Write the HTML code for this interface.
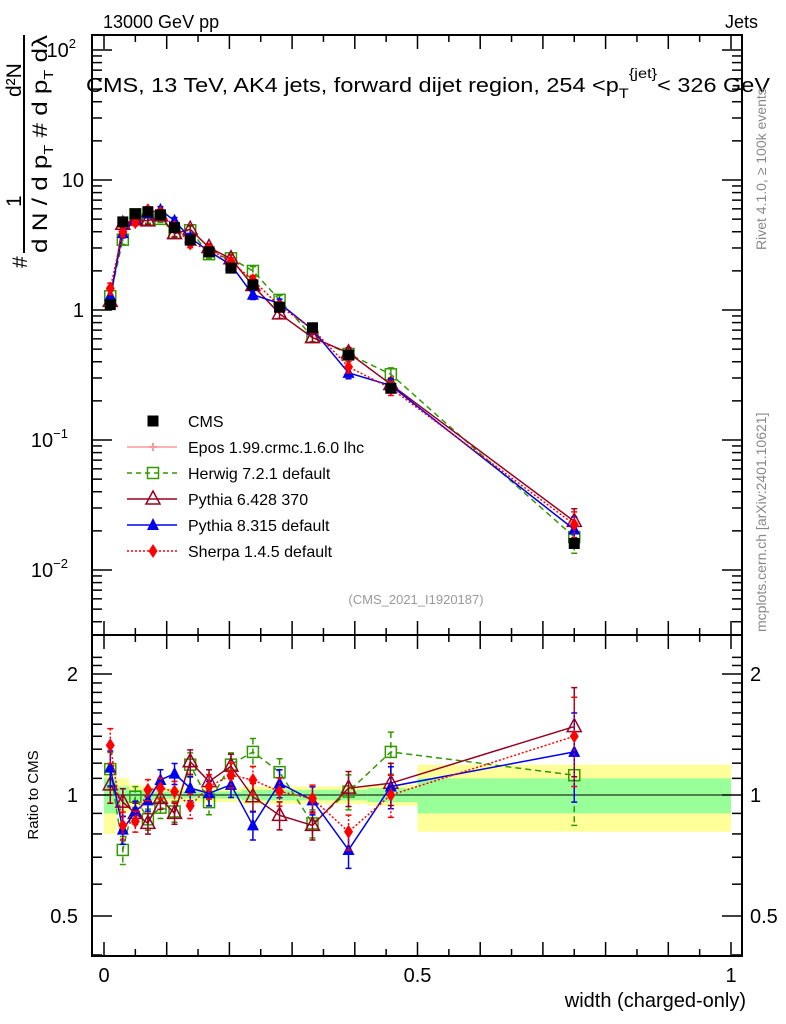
<!DOCTYPE html>
<html><head><meta charset="utf-8"><style>
body{margin:0;background:#fff}
svg{display:block;font-family:"Liberation Sans",Arial,sans-serif}
</style></head><body>
<svg id="c" width="786" height="1024" viewBox="0 0 786 1024" xmlns="http://www.w3.org/2000/svg">
<g id="bands"></g>
<g id="axes"></g>
<g id="series"></g>
<text x="103" y="28" font-size="18">13000 GeV pp</text>
<text x="758" y="28" font-size="18" text-anchor="end">Jets</text>
<text x="86" y="92" font-size="20" textLength="684" lengthAdjust="spacingAndGlyphs">CMS, 13 TeV, AK4 jets, forward dijet region, 254 &lt;p<tspan font-size="14" dy="6">T</tspan><tspan font-size="14" dy="-20">{jet}</tspan><tspan dy="14">&lt; 326 GeV</tspan></text>
<text x="416" y="604" font-size="13" fill="#999" text-anchor="middle">(CMS_2021_I1920187)</text>
<text transform="translate(766,250) rotate(-90)" font-size="14" fill="#888">Rivet 4.1.0, ≥ 100k events</text>
<text transform="translate(766,632) rotate(-90)" font-size="14" fill="#888">mcplots.cern.ch [arXiv:2401.10621]</text>
<g font-size="21">
<text transform="translate(21,97) rotate(-90)">d²N</text>
<text transform="translate(21,207) rotate(-90)">1</text>
<text transform="translate(27,268) rotate(-90)">#</text>
<line x1="24" y1="35" x2="24" y2="253" stroke="#000" stroke-width="2"/>
<text transform="translate(47,253) rotate(-90)" textLength="218" lengthAdjust="spacingAndGlyphs">d N / d p<tspan font-size="13" dy="6">T</tspan><tspan dy="-6"> # d p</tspan><tspan font-size="13" dy="6">T</tspan><tspan dy="-6"> dλ</tspan></text>
</g>
<text transform="translate(38,795) rotate(-90)" font-size="15" text-anchor="middle">Ratio to CMS</text>
<text x="746" y="1007" font-size="20" text-anchor="end">width (charged-only)</text>
<g id="legend"></g>
</svg>
<script>
const xVals=[0.01,0.03,0.05,0.07,0.09,0.1125,0.1375,0.1675,0.2025,0.2375,0.28,0.3325,0.39,0.4575,0.75];
const binEdges=[0,0.02,0.04,0.06,0.08,0.1,0.125,0.15,0.185,0.22,0.255,0.305,0.36,0.42,0.5,1];
const cmsVals=[1.1,4.76,5.5,5.7,5.4,4.3,3.45,2.8,2.1,1.56,1.05,0.73,0.45,0.25,0.016];
const bandYellow=[0.2,0.1,0.06,0.05,0.04,0.04,0.04,0.04,0.04,0.05,0.05,0.05,0.05,0.06,0.19];
const bandGreen=[0.1,0.05,0.03,0.03,0.02,0.02,0.02,0.02,0.02,0.03,0.03,0.03,0.03,0.04,0.1];
const herwigRatio=[1.16,0.73,0.99,0.87,0.93,0.91,1.19,0.96,1.19,1.28,1.14,0.85,1.02,1.28,1.12];
const pythia6Ratio=[1.06,0.96,0.90,0.85,0.98,0.90,1.21,1.08,1.18,0.99,0.89,0.84,1.04,1.07,1.48];
const pythia8Ratio=[1.17,0.82,0.91,0.97,1.09,1.13,1.04,1.01,1.06,0.84,1.07,0.97,0.73,1.05,1.28];
const sherpaRatio=[1.33,0.84,0.86,1.03,1.04,1.02,0.94,1.05,1.12,1.09,1.02,0.98,0.81,1.0,1.40];
const mcErr=[0.1,0.08,0.06,0.06,0.06,0.06,0.07,0.07,0.07,0.08,0.08,0.08,0.1,0.12,0.25];
const ratioTicks=[0.5,1,2];

const NS="http://www.w3.org/2000/svg";
const L=92,R=742,T=35,M=635,B=956;
const X=v=>104+v*627;
const Y=v=>310-130*Math.log10(v);
const YR=v=>795-121*Math.log2(v);
function mk(tag,attrs,parent){const e=document.createElementNS(NS,tag);for(const k in attrs)e.setAttribute(k,attrs[k]);parent.appendChild(e);return e;}
const bands=document.getElementById('bands'),axes=document.getElementById('axes'),ser=document.getElementById('series'),leg=document.getElementById('legend');

for(let i=0;i<xVals.length;i++){
  const x0=X(binEdges[i]),x1=X(binEdges[i+1]);
  let r=mk('rect',{x:x0,y:YR(1+bandYellow[i]),width:x1-x0,height:YR(1-bandYellow[i])-YR(1+bandYellow[i]),fill:'#ffff99'},bands);
  
  
  r=mk('rect',{x:x0,y:YR(1+bandGreen[i]),width:x1-x0,height:YR(1-bandGreen[i])-YR(1+bandGreen[i]),fill:'#99ff99'},bands);
  
  
}
let ln=mk('line',{x1:L,x2:R,y1:YR(1),y2:YR(1),stroke:'#000','stroke-width':1},bands);



for(const [y0,y1,nm] of [[T,M,'main-plot-frame'],[M,B,'ratio-plot-frame']]){
  const f=mk('rect',{x:L,y:y0,width:R-L,height:y1-y0,fill:'none',stroke:'#000','stroke-width':2},axes);
  
  
}
for(let k=0;k<=20;k++){
  const v=k*0.05,x=X(v),len=(k%2==0)?14:7;
  for(const yb of [M,B]){mk('line',{x1:x,x2:x,y1:yb,y2:yb-len,stroke:'#000','stroke-width':1.5},axes);}
  mk('line',{x1:x,x2:x,y1:T,y2:T+len,stroke:'#000','stroke-width':1.5},axes);
  mk('line',{x1:x,x2:x,y1:M,y2:M+len,stroke:'#000','stroke-width':1.5},axes);
}
[['0',0],['0.5',0.5],['1',1]].forEach(([s,v])=>{const t=mk('text',{x:X(v),y:982,'font-size':20,'text-anchor':'middle'},axes);t.textContent=s;

});
for(let e=-3;e<=2;e++){
  for(let m=1;m<10;m++){
    const v=m*Math.pow(10,e),y=Y(v);
    if(y<T||y>M)continue;
    const len=m==1?20:10;
    mk('line',{x1:L,x2:L+len,y1:y,y2:y,stroke:'#000','stroke-width':1.5},axes);
    mk('line',{x1:R,x2:R-len,y1:y,y2:y,stroke:'#000','stroke-width':1.5},axes);
  }
}
[[100,'10','2'],[10,'10',''],[1,'1',''],[0.1,'10','−1'],[0.01,'10','−2']].forEach(([v,b,s])=>{
  const t=mk('text',{x:s?72:84,y:Y(v)+7,'font-size':20,'text-anchor':'end'},axes);
  t.textContent=b;
  if(s){const sp=mk('tspan',{dy:-9,'font-size':13},t);sp.textContent=s;t.setAttribute('x',s.length>1?68:76);t.setAttribute('text-anchor','end');}
  
  
});
for(let v=0.4;v<=2.3;v+=0.1){const y=YR(v);if(y<M||y>B)continue;
  const maj=ratioTicks.some(r=>Math.abs(r-v)<1e-6);const len=maj?20:10;
  mk('line',{x1:L,x2:L+len,y1:y,y2:y,stroke:'#000','stroke-width':1.5},axes);
  mk('line',{x1:R,x2:R-len,y1:y,y2:y,stroke:'#000','stroke-width':1.5},axes);}
ratioTicks.forEach(v=>{
  let t=mk('text',{x:78,y:YR(v)+7,'font-size':20,'text-anchor':'end'},axes);t.textContent=String(v);
  
  
  t=mk('text',{x:750,y:YR(v)+7,'font-size':20},axes);t.textContent=String(v);
  
  
});

function marker(g,type,x,y,col){
  if(type=='sq')mk('rect',{x:x-5.5,y:y-5.5,width:11,height:11,fill:'none',stroke:col,'stroke-width':1.5},g);
  else if(type=='fsq')mk('rect',{x:x-5.5,y:y-5.5,width:11,height:11,fill:col},g);
  else if(type=='otri')mk('polygon',{points:`${x},${y-8} ${x-7},${y+5} ${x+7},${y+5}`,fill:'none',stroke:col,'stroke-width':1.5},g);
  else if(type=='tri')mk('polygon',{points:`${x},${y-7} ${x-6},${y+5} ${x+6},${y+5}`,fill:col},g);
  else if(type=='dia')mk('polygon',{points:`${x},${y-7} ${x-4.5},${y} ${x},${y+7} ${x+4.5},${y}`,fill:col},g);
  else if(type=='cross'){mk('path',{d:`M${x-4} ${y}h8M${x} ${y-4}v8`,stroke:col,'stroke-width':2},g);}
}
const series=[
 {name:'herwig',ratio:herwigRatio,col:'#339900',dash:'6,4',m:'sq'},
 {name:'pythia6',ratio:pythia6Ratio,col:'#990022',dash:'',m:'otri'},
 {name:'pythia8',ratio:pythia8Ratio,col:'#0000ee',dash:'',m:'tri'},
 {name:'sherpa',ratio:sherpaRatio,col:'#ff0000',dash:'2,2',m:'dia'}
];
series.forEach(s=>{
  const g=mk('g',{},ser);
  
  
  const vals=s.ratio.map((r,i)=>r*cmsVals[i]);
  let d1='',d2='';
  xVals.forEach((x,i)=>{d1+=(i?'L':'M')+X(x)+' '+Y(vals[i]);d2+=(i?'L':'M')+X(x)+' '+YR(s.ratio[i]);});
  mk('path',{d:d1,fill:'none',stroke:s.col,'stroke-width':1.5,'stroke-dasharray':s.dash},g);
  mk('path',{d:d2,fill:'none',stroke:s.col,'stroke-width':1.5,'stroke-dasharray':s.dash},g);
  xVals.forEach((x,i)=>{
    const e=mcErr[i];
    for(const [yf,v] of [[Y,vals[i]],[YR,s.ratio[i]]]){
      const ya=yf(v*(1+e)),yb=yf(v*(1-e));
      mk('line',{x1:X(x),x2:X(x),y1:ya,y2:yb,stroke:s.col,'stroke-width':1.5,'stroke-dasharray':s.dash},g);
      mk('path',{d:`M${X(x)-3} ${ya}h6M${X(x)-3} ${yb}h6`,stroke:s.col,'stroke-width':1.5},g);
      marker(g,s.m,X(x),yf(v),s.col);
    }
  });
});
const gd=mk('g',{},ser);


xVals.forEach((x,i)=>{marker(gd,'fsq',X(x),Y(cmsVals[i]),'#000');});

const items=[['CMS','#000','','fsq',false],['Epos 1.99.crmc.1.6.0 lhc','#ff9999','','cross',true],['Herwig 7.2.1 default','#339900','5,4','sq',true],['Pythia 6.428 370','#990022','','otri',true],['Pythia 8.315 default','#0000ee','','tri',true],['Sherpa 1.4.5 default','#ff0000','2,2','dia',true]];
items.forEach((it,k)=>{
  const y=421+k*26;
  const g=mk('g',{},leg);
  
  
  if(it[4])mk('line',{x1:127,x2:177,y1:y,y2:y,stroke:it[1],'stroke-width':1.5,'stroke-dasharray':it[2]},g);
  marker(g,it[3],153,y,it[1]);
  const t=mk('text',{x:188,y:y+6,'font-size':16},g);t.textContent=it[0];
});
</script>
</body></html>
